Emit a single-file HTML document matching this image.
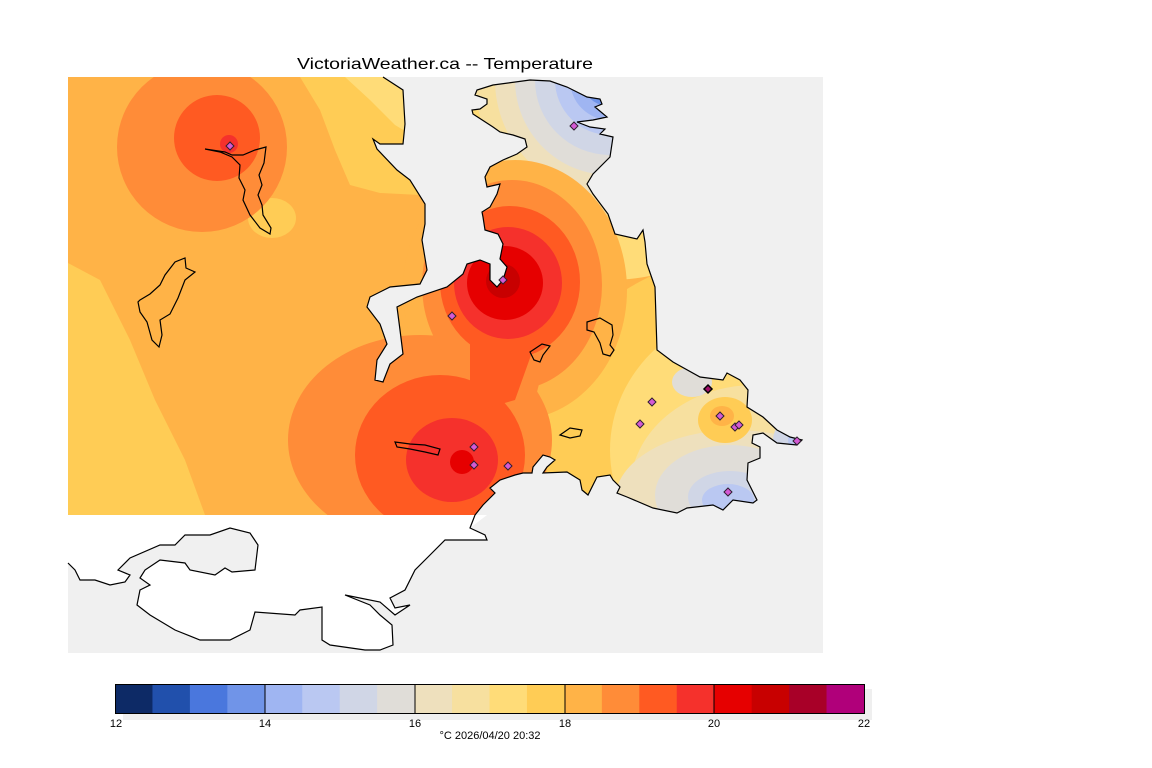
<!DOCTYPE html>
<html><head><meta charset="utf-8"><style>
html,body{margin:0;padding:0;background:#fff;width:1152px;height:768px;overflow:hidden}
svg{display:block}
text{font-family:"Liberation Sans",sans-serif;fill:#000}
</style></head><body>
<svg width="1152" height="768" viewBox="0 0 1152 768" xmlns="http://www.w3.org/2000/svg">
<defs>
<clipPath id="f"><polygon id="fp" points="68,77 383,77 403,90 405,124 403,144 380,144 373,139 377,149 397,170 410,180 425,204 425,224 422,240 427,270 420,284 390,287 370,297 367,307 380,324 387,344 377,360 375,380 383,382 390,364 403,354 400,330 397,307 417,297 447,287 463,274 467,264 480,260 490,264 490,280 497,287 503,280 507,267 500,259 503,244 498,234 485,230 483,217 482,212 490,207 497,194 500,184 487,187 485,177 490,167 503,160 517,154 527,147 525,139 513,135 500,132 493,127 473,114 472,110 480,109 487,104 487,99 475,95 477,90 493,85 530,80 550,81 567,87 587,97 600,99 602,104 595,107 607,117 593,120 577,122 590,127 605,129 600,134 613,137 610,157 593,174 587,184 593,194 608,214 615,234 637,239 643,230 645,242 647,264 655,287 657,350 673,362 700,377 723,380 727,373 740,380 748,390 747,407 763,417 777,430 790,437 802,440 797,445 777,443 763,433 753,435 752,443 760,447 760,458 748,463 747,480 757,500 753,503 733,500 723,510 713,505 687,508 677,513 653,508 627,497 617,493 620,487 613,480 610,475 597,477 588,495 582,490 580,480 567,472 543,473 547,467 555,460 550,457 543,455 533,467 532,473 523,473 515,475 500,480 490,488 495,493 483,505 475,515 68,515"/></clipPath>
</defs>
<text x="445" y="69" font-size="16" text-anchor="middle" textLength="296" lengthAdjust="spacingAndGlyphs">VictoriaWeather.ca -- Temperature</text>
<rect x="68" y="77" width="755" height="576" fill="#f0f0f0"/>
<g clip-path="url(#f)">
<rect x="60" y="70" width="800" height="460" fill="#ffb347"/>
<circle cx="610" cy="80" r="200" fill="#ffdc78"/>
<circle cx="610" cy="80" r="135" fill="#f7e09f"/>
<circle cx="610" cy="80" r="115" fill="#eee0bd"/>
<circle cx="610" cy="80" r="95" fill="#e0ddd8"/>
<circle cx="610" cy="80" r="75" fill="#d0d6e6"/>
<circle cx="610" cy="80" r="55" fill="#bac8f2"/>
<circle cx="610" cy="80" r="40" fill="#9fb5f2"/>
<circle cx="605" cy="85" r="20" fill="#7094e8"/>
<ellipse cx="770" cy="430" rx="230" ry="180" fill="#ffcc55"/>
<ellipse cx="770" cy="450" rx="160" ry="145" fill="#ffdc78"/>
<ellipse cx="755" cy="490" rx="125" ry="105" fill="#f7e09f"/>
<ellipse cx="735" cy="500" rx="120" ry="70" fill="#eee0bd"/>
<ellipse cx="730" cy="495" rx="75" ry="50" fill="#e0ddd8"/>
<ellipse cx="692" cy="382" rx="20" ry="15" fill="#e0ddd8"/>
<ellipse cx="730" cy="497" rx="42" ry="26" fill="#d0d6e6"/>
<circle cx="795" cy="440" r="22" fill="#d0d6e6"/>
<ellipse cx="728" cy="500" rx="26" ry="16" fill="#bac8f2"/>
<circle cx="798" cy="440" r="10" fill="#bac8f2"/>
<ellipse cx="725" cy="420" rx="27" ry="23" fill="#ffcc55"/>
<ellipse cx="722" cy="416" rx="12" ry="10" fill="#ffb347"/>
<polygon points="68,263 100,280 130,340 155,400 185,460 205,515 68,515" fill="#ffcc55"/>
<polygon points="300,77 420,77 420,195 380,193 350,185 335,150 320,110" fill="#ffcc55"/>
<polygon points="345,77 420,77 420,140 395,125 370,100" fill="#ffdc78"/>
<ellipse cx="272" cy="218" rx="24" ry="20" fill="#ffcc55"/>
<circle cx="202" cy="147" r="85" fill="#ff8c38"/>
<circle cx="217" cy="138" r="43" fill="#ff5a22"/>
<circle cx="229" cy="144" r="9" fill="#f5312c"/>
<ellipse cx="515" cy="290" rx="112" ry="130" fill="#ffb347"/>
<ellipse cx="420" cy="440" rx="132" ry="105" fill="#ff8c38"/>
<ellipse cx="512" cy="285" rx="90" ry="105" fill="#ff8c38"/>
<polygon points="440,350 550,340 530,420 470,420" fill="#ff8c38"/>
<ellipse cx="440" cy="455" rx="85" ry="80" fill="#ff5a22"/>
<ellipse cx="510" cy="282" rx="70" ry="76" fill="#ff5a22"/>
<polygon points="470,330 540,330 515,400 480,410 470,400" fill="#ff5a22"/>
<ellipse cx="452" cy="460" rx="46" ry="42" fill="#f5312c"/>
<ellipse cx="508" cy="283" rx="54" ry="56" fill="#f5312c"/>
<ellipse cx="505" cy="283" rx="38" ry="37" fill="#e60000"/>
<circle cx="503" cy="281" r="17" fill="#c80000"/>
<circle cx="462" cy="462" r="12" fill="#e60000"/>
</g>
<polygon points="68,515 487,515 470,528 485,535 487,540 445,540 430,555 415,570 405,590 390,598 395,608 410,605 395,615 380,602 345,595 370,605 380,615 392,625 393,645 380,650 365,650 330,645 322,640 322,607 300,610 295,615 255,612 250,630 230,640 200,640 175,630 150,615 137,605 140,590 150,585 140,578 145,570 160,560 185,563 190,570 215,575 225,568 232,572 255,570 258,545 250,533 230,528 210,535 185,535 175,545 160,545 130,558 118,570 130,575 125,582 110,585 95,580 80,580 75,570 68,563" fill="#fff"/>
<g fill="none" stroke="#000" stroke-width="1.2">
<polyline points="383,77 403,90 405,124 403,144 380,144 373,139 377,149 397,170 410,180 425,204 425,224 422,240 427,270 420,284 390,287 370,297 367,307 380,324 387,344 377,360 375,380 383,382 390,364 403,354 400,330 397,307 417,297 447,287 463,274 467,264 480,260 490,264 490,280 497,287 503,280 507,267 500,259 503,244 498,234 485,230 483,217 482,212 490,207 497,194 500,184 487,187 485,177 490,167 503,160 517,154 527,147 525,139 513,135 500,132 493,127 473,114 472,110 480,109 487,104 487,99 475,95 477,90 493,85 530,80 550,81 567,87 587,97 600,99 602,104 595,107 607,117 593,120 577,122 590,127 605,129 600,134 613,137 610,157 593,174 587,184 593,194 608,214 615,234 637,239 643,230 645,242 647,264 655,287 657,350 673,362 700,377 723,380 727,373 740,380 748,390 747,407 763,417 777,430 790,437 802,440 797,445 777,443 763,433 753,435 752,443 760,447 760,458 748,463 747,480 757,500 753,503 733,500 723,510 713,505 687,508 677,513 653,508 627,497 617,493 620,487 613,480 610,475 597,477 588,495 582,490 580,480 567,472 543,473 547,467 555,460 550,457 543,455 533,467 532,473 523,473 515,475 500,480 490,488 495,493 483,505 475,515 470,528 485,535 487,540 445,540 430,555 415,570 405,590 390,598 395,608 410,605 395,615 380,602 345,595 370,605 380,615 392,625 393,645 380,650 365,650 330,645 322,640 322,607 300,610 295,615 255,612 250,630 230,640 200,640 175,630 150,615 137,605 140,590 150,585 140,578 145,570 160,560 185,563 190,570 215,575 225,568 232,572 255,570 258,545 250,533 230,528 210,535 185,535 175,545 160,545 130,558 118,570 130,575 125,582 110,585 95,580 80,580 75,570 68,563"/>
<polygon points="205,149 220,152 232,157 240,165 239,178 245,190 243,200 250,215 260,228 270,234 271,228 263,215 262,205 258,195 262,185 259,175 264,163 266,147 255,150 243,155 232,155 225,152"/>
<polygon points="140,300 150,294 160,285 165,275 175,262 185,258 186,268 195,272 185,280 178,298 170,314 160,320 162,335 159,347 152,340 147,322 140,312 138,302"/>
<polygon points="395,442 410,444 425,445 440,449 438,455 425,452 410,449 397,447"/>
<polygon points="587,322 600,318 612,325 613,335 610,345 614,350 610,356 603,354 600,343 594,332 587,330"/>
<polygon points="530,352 542,344 550,346 543,355 540,362 534,360"/>
<polygon points="560,435 570,428 582,430 580,436 570,438"/>
</g>
<g stroke="#302030" stroke-width="1" fill="#d45ad4">
<polygon points="574,122 578,126 574,130 570,126"/>
<polygon points="230,142 234,146 230,150 226,146"/>
<polygon points="503,276 507,280 503,284 499,280"/>
<polygon points="452,312 456,316 452,320 448,316"/>
<polygon points="474,443 478,447 474,451 470,447"/>
<polygon points="474,461 478,465 474,469 470,465"/>
<polygon points="508,462 512,466 508,470 504,466"/>
<polygon points="652,398 656,402 652,406 648,402"/>
<polygon points="640,420 644,424 640,428 636,424"/>
<polygon points="708,385 712,389 708,393 704,389" fill="#a0106a" stroke="#000" stroke-width="1.5"/>
<polygon points="720,412 724,416 720,420 716,416"/>
<polygon points="735,423 739,427 735,431 731,427"/>
<polygon points="739,421 743,425 739,429 735,425"/>
<polygon points="797,437 801,441 797,445 793,441"/>
<polygon points="728,488 732,492 728,496 724,492"/>
</g>
<rect x="123" y="689" width="749" height="31" fill="#efefef"/>
<g stroke="none">
<rect x="115" y="684" width="38" height="30" fill="#0d2a66"/>
<rect x="152.45" y="684" width="38" height="30" fill="#2150ac"/>
<rect x="189.9" y="684" width="38" height="30" fill="#4a77dd"/>
<rect x="227.35" y="684" width="38" height="30" fill="#7094e8"/>
<rect x="264.8" y="684" width="38" height="30" fill="#9fb5f2"/>
<rect x="302.25" y="684" width="38" height="30" fill="#bac8f2"/>
<rect x="339.7" y="684" width="38" height="30" fill="#d0d6e6"/>
<rect x="377.15" y="684" width="38" height="30" fill="#e0ddd8"/>
<rect x="414.6" y="684" width="38" height="30" fill="#eee0bd"/>
<rect x="452.05" y="684" width="38" height="30" fill="#f7e09f"/>
<rect x="489.5" y="684" width="38" height="30" fill="#ffdc78"/>
<rect x="526.95" y="684" width="38" height="30" fill="#ffcc55"/>
<rect x="564.4" y="684" width="38" height="30" fill="#ffb347"/>
<rect x="601.85" y="684" width="38" height="30" fill="#ff8c38"/>
<rect x="639.3" y="684" width="38" height="30" fill="#ff5a22"/>
<rect x="676.75" y="684" width="38" height="30" fill="#f5312c"/>
<rect x="714.2" y="684" width="38" height="30" fill="#e60000"/>
<rect x="751.65" y="684" width="38" height="30" fill="#c80000"/>
<rect x="789.1" y="684" width="38" height="30" fill="#a80028"/>
<rect x="826.55" y="684" width="37.45" height="30" fill="#b0007a"/>
</g>
<rect x="115.5" y="684.5" width="749" height="29" fill="none" stroke="#000" stroke-width="1"/>
<g stroke="#000" stroke-width="1">
<line x1="265" y1="684" x2="265" y2="714"/><line x1="415" y1="684" x2="415" y2="714"/>
<line x1="565" y1="684" x2="565" y2="714"/><line x1="714" y1="684" x2="714" y2="714"/>
</g>
<g font-size="11" text-anchor="middle">
<text x="116" y="727">12</text><text x="265" y="727">14</text><text x="415" y="727">16</text>
<text x="565" y="727">18</text><text x="714" y="727">20</text><text x="864" y="727">22</text>
<text x="490" y="739">°C  2026/04/20 20:32</text>
</g>
</svg>
</body></html>
